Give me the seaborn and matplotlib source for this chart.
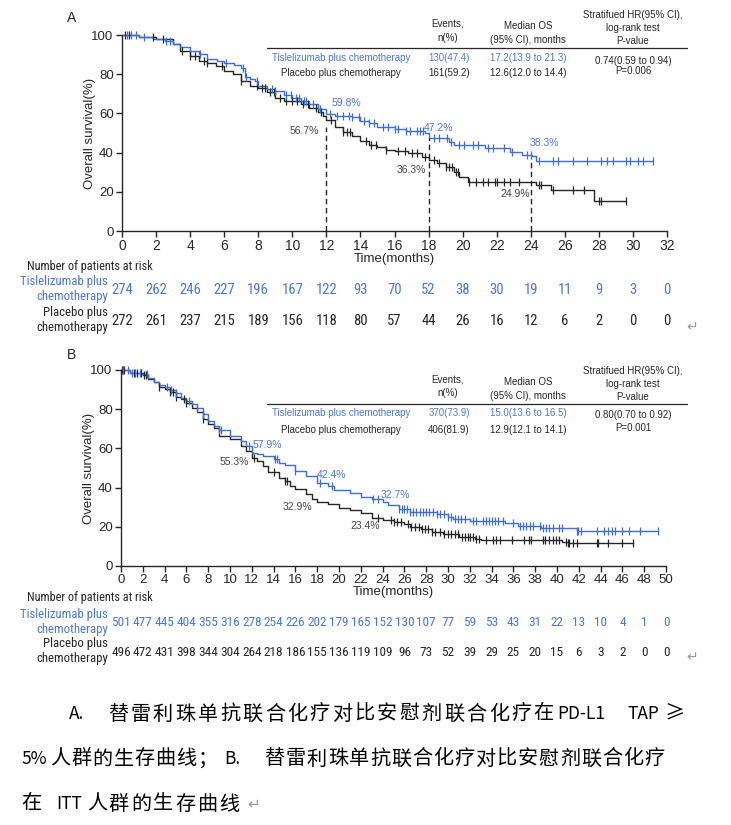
import numpy as np
import pandas as pd
import matplotlib
matplotlib.use('Agg')
import matplotlib.pyplot as plt
import matplotlib.transforms as mtransforms
from matplotlib import font_manager
from matplotlib.font_manager import FontProperties
from matplotlib.lines import Line2D
import seaborn as sns

# ---------------- data : panel A (PD-L1 TAP >= 5%) ----------------
a_tis_t = [0, 1.0, 1.8, 2.5, 3.0, 3.4, 4.0, 4.5, 5.0, 5.6, 6.0, 6.6, 7.0, 7.2, 7.5, 7.8, 8.0, 8.5, 9.0,
           9.5, 10.0, 10.5, 11.0, 11.5, 12.0, 12.5, 13.5, 14.0, 14.5, 15.0, 16.0, 16.7, 17.8, 18.0, 19.2,
           19.5, 21.3, 22.8, 23.5, 24.1, 24.3]
a_tis_s = [100, 99, 98, 97, 95.5, 94, 92, 90.2, 88, 86.5, 85.8, 84.5, 83.4, 78.5, 77.5, 76.5, 74, 72.4, 71.2,
           69.5, 68, 66.5, 64.7, 62, 59.8, 58.8, 58, 56.3, 55, 53.2, 52, 50.8, 49.8, 47.2, 45.6,
           43.9, 42.2, 40.5, 38.8, 38.3, 35.9]
a_tis_end = 31.2
a_tis_cens = [0.3, 0.5, 0.8, 1.3, 2.6, 2.8, 4.6, 6.1, 7.1, 7.3, 7.9, 8.8, 9.0, 9.6, 9.9, 10.2, 10.4, 10.7, 10.8,
              11.2, 11.6, 12.2, 12.6, 13.0, 13.3, 13.5, 13.9, 14.2, 14.5, 14.8, 15.3, 15.6, 16.0, 16.2, 16.7,
              16.9, 17.3, 17.5, 17.7, 18.3, 18.6, 19.1, 19.3, 19.8, 20.1, 20.6, 20.9, 21.5, 21.8, 22.4, 22.9,
              23.8, 24.0, 24.5, 25.3, 25.6, 26.5, 27.3, 28.1, 28.5, 28.8, 29.6, 29.8, 30.3, 30.6, 31.2]

a_pbo_t = [0, 1.0, 2.0, 3.0, 3.4, 4.0, 4.5, 5.0, 5.5, 6.0, 6.5, 7.0, 7.5, 8.0, 8.5, 9.0, 9.5, 10.5, 11.0,
           11.5, 11.8, 12.0, 12.5, 13.0, 13.5, 14.0, 14.5, 15.0, 15.5, 16.0, 16.8, 17.6, 18.0, 18.5, 19.0,
           19.5, 19.8, 20.3, 24.3, 25.2, 27.7]
a_pbo_s = [100, 99, 97.8, 95.2, 91.9, 89.3, 86.8, 85.9, 84.2, 81.7, 80, 76.6, 74, 72.9, 70.7, 68.1, 66.4, 64.7, 63,
           60.5, 58.8, 56.7, 52.9, 50.3, 48.6, 46.1, 44, 42.7, 41.5, 40.7, 39.6, 37.6, 36.3, 34.5, 32.8,
           30.3, 27.7, 24.9, 23.5, 20.9, 15.3]
a_pbo_end = 29.6
a_pbo_cens = [0.2, 0.4, 1.8, 2.4, 3.5, 4.0, 4.3, 4.8, 5.0, 5.9, 7.0, 7.9, 8.2, 8.4, 8.7, 8.9, 9.3, 9.6, 10.0,
              10.3, 10.6, 10.9, 11.4, 11.7, 12.3, 13.0, 13.2, 13.4, 14.3, 14.6, 14.9, 15.5, 16.2, 16.6, 17.0,
              17.3, 17.8, 18.3, 18.6, 19.0, 19.2, 19.4, 19.6, 19.7, 20.4, 20.8, 21.2, 21.5, 21.9, 22.0, 22.4,
              22.8, 23.3, 24.5, 24.6, 25.3, 26.5, 27.1, 28.0, 28.1, 29.6]

a_marks_t = [12, 18, 24]
a_marks_top = [53, 47.2, 37]
a_lab_tis = [(13.2, 65.3, '59.8%'), (18.6, 52.4, '47.2%'), (24.8, 44.7, '38.3%')]
a_lab_pbo = [(10.7, 51.0, '56.7%'), (17.0, 31.1, '36.3%'), (23.1, 18.9, '24.9%')]

a_risk_t = list(range(0, 33, 2))
a_risk_tis = [274, 262, 246, 227, 196, 167, 122, 93, 70, 52, 38, 30, 19, 11, 9, 3, 0]
a_risk_pbo = [272, 261, 237, 215, 189, 156, 118, 80, 57, 44, 26, 16, 12, 6, 2, 0, 0]

a_table = [['Tislelizumab plus chemotherapy', '130(47.4)', '17.2(13.9 to 21.3)', '0.74(0.59 to 0.94)'],
           ['Placebo plus chemotherapy', '161(59.2)', '12.6(12.0 to 14.4)', 'P=0.006']]

# ---------------- data : panel B (ITT) ----------------
b_tis_t = [0, 0.8, 1.8, 2.5, 3.0, 3.5, 4.0, 4.5, 5.0, 5.5, 6.0, 6.5, 7.0, 7.5, 8.0, 8.5, 9.0, 10.0, 11.0,
           11.5, 12.0, 12.5, 13.0, 14.0, 14.5, 15.0, 16.0, 17.0, 18.0, 19.0, 19.5, 21.0, 22.0, 23.0, 24.0,
           24.5, 25.5, 26.5, 27.0, 29.0, 30.0, 30.5, 32.0, 35.2, 36.4, 38.5, 41.8]
b_tis_s = [100, 98.6, 97.8, 96, 93.9, 92.5, 91.5, 90, 88.4, 85.9, 84.2, 82.5, 80.8, 77.4, 74, 71.4, 69.4, 66.3, 63.8,
           61.2, 57.9, 57, 56.1, 54.4, 52.4, 51.4, 48.5, 45.9, 42.4, 40.8, 38.8, 37.1, 35.4, 34.4, 32.7,
           31.1, 28.9, 27.8, 27.3, 26.6, 25.2, 24.0, 23.0, 22.1, 20.4, 19.2, 18.0]
b_tis_end = 49.3
b_tis_cens = [0.2, 0.6, 1.0, 1.3, 1.7, 2.4, 4.2, 4.6, 5.0, 6.2, 7.0, 7.5, 9.0, 9.2, 11.7, 14.1, 14.3, 16.0, 18.3,
              19.4, 23.1, 23.6, 25.5, 25.8, 26.0, 26.2, 26.5, 26.8, 27.1, 27.4, 27.7, 28.0, 28.3, 28.6, 29.0,
              29.3, 29.6, 30.0, 30.3, 30.6, 30.9, 31.2, 31.6, 32.3, 32.6, 33.2, 33.5, 33.8, 34.0, 34.3, 34.6,
              35.0, 36.0, 36.6, 36.9, 37.2, 37.5, 37.8, 38.4, 38.7, 39.0, 39.3, 39.6, 40.2, 40.5, 41.8, 41.9,
              42.2, 43.7, 44.3, 44.7, 45.0, 45.3, 46.0, 46.6, 47.6, 49.3]

b_pbo_t = [0, 0.8, 2.0, 2.5, 3.0, 3.5, 4.0, 4.5, 5.0, 5.5, 6.0, 6.5, 7.0, 7.5, 8.0, 8.5, 9.0, 10.0, 11.0,
           11.5, 12.0, 12.5, 13.0, 13.5, 14.5, 15.0, 15.5, 16.0, 17.0, 17.5, 18.0, 19.0, 20.0, 21.0, 22.0,
           23.0, 24.0, 25.0, 26.0, 26.5, 27.5, 28.5, 29.5, 31.0, 32.5, 33.0, 40.5, 41.0]
b_pbo_s = [100, 98.6, 97.3, 95.6, 93.9, 91.5, 90.5, 88.8, 86.4, 85, 83, 80.8, 78.6, 74.8, 72.3, 70.6, 66.3, 64.6, 61.2,
           58.7, 55.3, 53.6, 51, 48, 45.1, 43.4, 40.8, 39.1, 36.6, 34, 32.9, 31.5, 29.8, 28.6, 27.2,
           24.7, 23.4, 22.5, 21.4, 20.1, 18.7, 17.5, 16.3, 15.0, 13.6, 13.1, 12.4, 11.6]
b_pbo_end = 47.0
b_pbo_cens = [0.1, 0.2, 0.3, 1.2, 1.5, 1.8, 2.1, 2.3, 3.5, 4.5, 4.8, 5.0, 5.8, 6.0, 7.5, 12.2, 14.0, 15.0, 15.2,
              23.6, 24.8, 25.0, 25.3, 25.7, 26.3, 26.6, 27.0, 27.3, 27.6, 27.9, 28.2, 28.5, 28.8, 29.3, 29.6,
              30.0, 30.3, 30.6, 30.9, 31.3, 31.6, 31.8, 32.0, 32.3, 32.6, 32.8, 33.5, 34.1, 34.4, 34.8, 35.9,
              37.0, 37.4, 37.6, 38.7, 38.9, 39.3, 39.6, 39.9, 40.2, 40.8, 41.0, 41.1, 41.5, 41.8, 43.7, 43.8,
              44.7, 46.0, 47.0]

b_lab_tis = [(13.4, 61.6, '57.9%'), (19.3, 46.4, '42.4%'), (25.2, 36.1, '32.7%')]
b_lab_pbo = [(10.4, 53.1, '55.3%'), (16.2, 30.3, '32.9%'), (22.4, 20.4, '23.4%')]

b_risk_t = list(range(0, 51, 2))
b_risk_tis = [501, 477, 445, 404, 355, 316, 278, 254, 226, 202, 179, 165, 152, 130, 107, 77, 59, 53, 43, 31,
              22, 13, 10, 4, 1, 0]
b_risk_pbo = [496, 472, 431, 398, 344, 304, 264, 218, 186, 155, 136, 119, 109, 96, 73, 52, 39, 29, 25, 20,
              15, 6, 3, 2, 0, 0]

b_table = [['Tislelizumab plus chemotherapy', '370(73.9)', '15.0(13.6 to 16.5)', '0.80(0.70 to 0.92)'],
           ['Placebo plus chemotherapy', '406(81.9)', '12.9(12.1 to 14.1)', 'P=0.001']]

cap_line1_cjk = '替雷利珠单抗联合化疗对比安慰剂联合化疗在'
cap_line2_a = '人群的生存曲线；'
cap_line2_cjk = '替雷利珠单抗联合化疗对比安慰剂联合化疗'
cap_line3_cjk = '人群的生存曲线'

# ---------------- style ----------------
BLUE = '#3d6fd6'
BLUE_TXT = '#4a78d8'
BLACK = '#262626'
W, H = 731, 825

sns.set_style('ticks')
plt.rcParams['font.family'] = ['Liberation Sans', 'DejaVu Sans']
CJK = ['Noto Sans CJK SC', 'DejaVu Sans']


# look for a condensed face, otherwise fall back to a smaller regular one
def narrow_font():
    wanted = ['Liberation Sans Narrow', 'Arial Narrow', 'Roboto Condensed', 'Open Sans Condensed']
    for f in font_manager.fontManager.ttflist:
        if f.name in wanted and f.style == 'normal' and f.weight in (400, 'normal', 'regular'):
            return f.fname
    for f in font_manager.fontManager.ttflist:
        if f.name == 'DejaVu Sans' and 'condensed' in str(f.stretch) and f.weight in (400, 'normal') \
                and f.style == 'normal':
            return f.fname
    return None


NARROW_FILE = narrow_font()


def nprop(size):
    if NARROW_FILE:
        return FontProperties(fname=NARROW_FILE, size=size)
    return FontProperties(family='Liberation Sans', size=size * 0.85)


def fx(x):
    return x / W


def fy(y):
    return 1 - y / H


def surv_at(times, surv, t):
    idx = np.searchsorted(times, t, side='right') - 1
    return np.asarray(surv)[idx]


def draw_km(ax, t, s, t_end, cens, color):
    df = pd.DataFrame({'t': list(t) + [t_end], 's': list(s) + [s[-1]]})
    sns.lineplot(data=df, x='t', y='s', drawstyle='steps-post', color=color, lw=1.0,
                 estimator=None, sort=False, ax=ax, clip_on=False)
    cdf = pd.DataFrame({'t': cens, 's': surv_at(t, s, cens)})
    sns.scatterplot(data=cdf, x='t', y='s', marker='|', s=26, color=color, linewidth=0.9,
                    ax=ax, zorder=3, clip_on=False)


def style_ax(ax, xmax, ticksize):
    ax.set_xlim(0, xmax)
    ax.set_ylim(0, 100)
    ax.set_xticks(range(0, xmax + 1, 2))
    ax.set_yticks(range(0, 101, 20))
    sns.despine(ax=ax)
    for sp in ['left', 'bottom']:
        ax.spines[sp].set_linewidth(1.0)
        ax.spines[sp].set_color(BLACK)
    ax.tick_params(direction='out', length=4, width=1, color=BLACK, labelcolor=BLACK, labelsize=9.5, pad=2)
    for lab in ax.get_xticklabels():
        lab.set_fontsize(ticksize)
    ax.set_xlabel('Time(months)', fontsize=9.5, labelpad=0, color=BLACK)
    ax.set_ylabel('Overall survival(%)', fontsize=9.5, labelpad=-3, color=BLACK)


def draw_table(fig, rows, y_head, y_line, y_rows):
    hx = [448, 528, 633]
    fig.text(fx(hx[0]), fy(y_head[0]), 'Events,\nn(%)', ha='center', va='center', fontsize=7,
             linespacing=1.5, color=BLACK)
    fig.text(fx(hx[1]), fy(y_head[1]), 'Median OS\n(95% CI), months', ha='center', va='center', fontsize=7,
             linespacing=1.5, color=BLACK)
    fig.text(fx(hx[2]), fy(y_head[2]), 'Stratifued HR(95% CI),\nlog-rank test\nP-value', ha='center',
             va='center', fontsize=7, linespacing=1.35, color=BLACK)
    fig.add_artist(Line2D([fx(267), fx(687)], [fy(y_line), fy(y_line)], color=BLACK, lw=0.9))
    colx = [341, 449, 528]
    for r, (row, yy, col) in enumerate(zip(rows, y_rows, [BLUE_TXT, BLACK])):
        for j in range(3):
            fig.text(fx(colx[j]), fy(yy), row[j], ha='center', va='center', fontsize=7, color=col)
        fig.text(fx(633), fy(yy + (2.5 if r == 0 else -2)), row[3], ha='center', va='center', fontsize=7,
                 color=BLACK)


def draw_risk(fig, ax, times, tis, pbo, y_title, y_rows, numsize):
    tr = mtransforms.blended_transform_factory(ax.transData, fig.transFigure)
    fig.text(fx(27), fy(y_title), 'Number of patients at risk', ha='left', va='center',
             fontproperties=nprop(8.8), color=BLACK)
    for vals, yy, col, lab in zip([tis, pbo], y_rows, [BLUE_TXT, BLACK],
                                  ['Tislelizumab plus\nchemotherapy', 'Placebo plus\nchemotherapy']):
        fig.text(fx(108), fy(yy), lab, ha='right', va='center', fontproperties=nprop(9.2),
                 color=col, linespacing=1.25)
        for t, v in zip(times, vals):
            ax.text(t, fy(yy + 1), str(v), transform=tr, ha='center', va='center',
                    fontproperties=nprop(numsize), color=col)


fig = plt.figure(figsize=(W / 100, H / 100), dpi=100)

# ---------------- panel A ----------------
axA = fig.add_axes([fx(122), fy(231), (667 - 122) / W, (231 - 35) / H])
draw_km(axA, a_pbo_t, a_pbo_s, a_pbo_end, a_pbo_cens, BLACK)
draw_km(axA, a_tis_t, a_tis_s, a_tis_end, a_tis_cens, BLUE)
axA.vlines(a_marks_t, 0, a_marks_top, colors=BLACK, linestyles=(0, (4, 2.5)), lw=1.0)
for x, y, s in a_lab_tis:
    axA.text(x, y, s, ha='center', va='center', fontsize=7.5, color=BLUE_TXT)
for x, y, s in a_lab_pbo:
    axA.text(x, y, s, ha='center', va='center', fontsize=7.5, color='#444444')
style_ax(axA, 32, 10)
fig.text(fx(72), fy(18), 'A', ha='center', va='center', fontsize=10, color=BLACK)
draw_table(fig, a_table, [31, 33, 28], 48, [58, 73])
draw_risk(fig, axA, a_risk_t, a_risk_tis, a_risk_pbo, 266, [289, 320], 10.5)
fig.text(fx(692), fy(327), '↵', ha='center', va='center', fontsize=10, color='#999999', family=CJK)

# ---------------- panel B ----------------
axB = fig.add_axes([fx(121), fy(566), (666 - 121) / W, (566 - 370) / H])
draw_km(axB, b_pbo_t, b_pbo_s, b_pbo_end, b_pbo_cens, BLACK)
draw_km(axB, b_tis_t, b_tis_s, b_tis_end, b_tis_cens, BLUE)
for x, y, s in b_lab_tis:
    axB.text(x, y, s, ha='center', va='center', fontsize=7.5, color=BLUE_TXT)
for x, y, s in b_lab_pbo:
    axB.text(x, y, s, ha='center', va='center', fontsize=7.5, color='#444444')
style_ax(axB, 50, 9.5)
fig.text(fx(72), fy(355), 'B', ha='center', va='center', fontsize=10, color=BLACK)
draw_table(fig, b_table, [386, 389, 384], 404, [413, 430])
draw_risk(fig, axB, b_risk_t, b_risk_tis, b_risk_pbo, 598, [622, 651], 9.5)
fig.text(fx(692), fy(657), '↵', ha='center', va='center', fontsize=10, color='#999999', family=CJK)


# ---------------- caption ----------------
def put_chars(text, x0, pitch, y, size=14.5):
    for i, ch in enumerate(text):
        fig.text(fx(x0 + pitch * (i + 0.5)), fy(y), ch, ha='center', va='center', fontsize=size,
                 family=CJK, color='black')


def put_word(text, x0, y, size=12.5):
    fig.text(fx(x0), fy(y), text, ha='left', va='center', fontsize=size, family=CJK, color='black')


put_word('A.', 69, 714)
put_chars(cap_line1_cjk, 107, 22.4, 714)
put_word('PD-L1', 557, 714)
put_word('TAP', 628, 714)
put_chars('≥', 664, 21, 714)

put_word('5%', 21, 759)
put_chars(cap_line2_a, 50, 21.0, 759)
put_word('B.', 224, 759)
put_chars(cap_line2_cjk, 264, 21.1, 759)

put_chars('在', 21, 20, 804)
put_word('ITT', 56, 804)
put_chars(cap_line3_cjk, 86, 22.0, 804)
fig.text(fx(247), fy(804), '↵', ha='left', va='center', fontsize=11, color='#999999', family=CJK)

fig.savefig('out.png', dpi=100)
